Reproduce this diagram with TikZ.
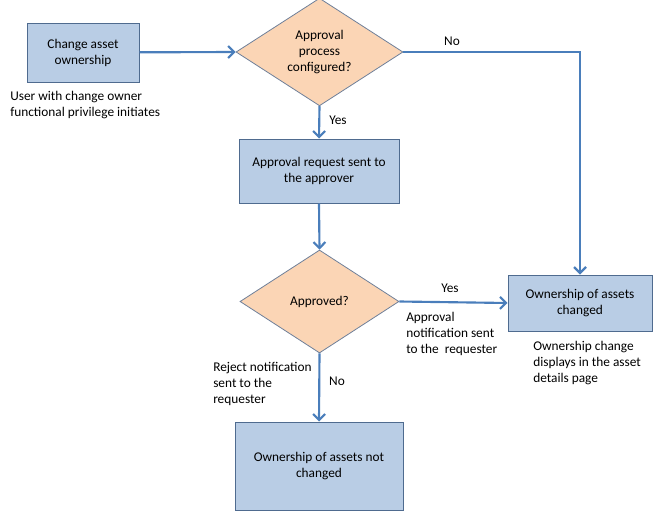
\documentclass[tikz,border=0pt]{standalone}
\usepackage{fontspec}
\setmainfont{Carlito}
\usetikzlibrary{shapes.geometric,arrows.meta}
\definecolor{boxfill}{HTML}{B9CDE5}
\definecolor{boxline}{HTML}{4F6B8F}
\definecolor{dfill}{HTML}{FBD5B5}
\definecolor{dline}{HTML}{6E7F99}
\definecolor{arr}{HTML}{4A7EBB}
\tikzset{
  procbox/.style={draw=boxline,fill=boxfill,line width=0.75pt,align=center,inner sep=0pt,font=\fontsize{10}{12}\selectfont},
  decide/.style={diamond,draw=dline,fill=dfill,line width=0.6pt,align=center,inner sep=0pt,font=\fontsize{10}{12}\selectfont},
  flow/.style={draw=arr,line width=1.6pt,-{Straight Barb[length=4.5pt,width=9pt,line width=1.6pt]}},
  note/.style={align=left,inner sep=0pt,font=\fontsize{10}{12}\selectfont,anchor=north west},
  lab/.style={inner sep=0pt,font=\fontsize{10}{12}\selectfont}
}
\begin{document}
\begin{tikzpicture}[x=0.75pt,y=-0.75pt]
\useasboundingbox (0,0) rectangle (654,511);
\node[procbox,minimum width=112*0.75pt,minimum height=59*0.75pt] (b1) at (83,52.5) {Change asset\\ownership};
\node[decide,minimum width=167*0.75pt,minimum height=104*0.75pt] (d1) at (319.5,52) {Approval\\process\\configured?};
\node[procbox,minimum width=160*0.75pt,minimum height=64*0.75pt] (b2) at (319,171) {Approval request sent to\\the approver};
\node[decide,minimum width=159*0.75pt,minimum height=103*0.75pt] (d2) at (319.5,301.5) {Approved?};
\node[procbox,minimum width=144*0.75pt,minimum height=56*0.75pt] (b3) at (580,303) {Ownership of assets\\changed};
\node[procbox,minimum width=168*0.75pt,minimum height=88*0.75pt] (b4) at (319,466) {Ownership of assets not\\changed};

\node[note] (n1) at (10,91) {User with change owner\\functional privilege initiates};
\node[note] (n2) at (406,312) {Approval\\notification sent\\to the\ \ requester};
\node[note] (n3) at (533,341) {Ownership change\\displays in the asset\\details page};
\node[note] (n4) at (213,362) {Reject notification\\sent to the\\requester};

\draw[flow] (b1) -- (d1.west);
\draw[flow] (d1.east) -| (b3.north);
\draw[flow] (d1.south) -- (b2.north);
\draw[flow] (b2.south) -- (d2.north);
\draw[flow] (d2.east) -- (b3.west);
\draw[flow] (d2.south) -- (b4.north);

\node[lab] (l1) at (452,41) {No};
\node[lab] (l2) at (338,120) {Yes};
\node[lab] (l3) at (450,288) {Yes};
\node[lab] (l4) at (337,381) {No};
\end{tikzpicture}
\end{document}
